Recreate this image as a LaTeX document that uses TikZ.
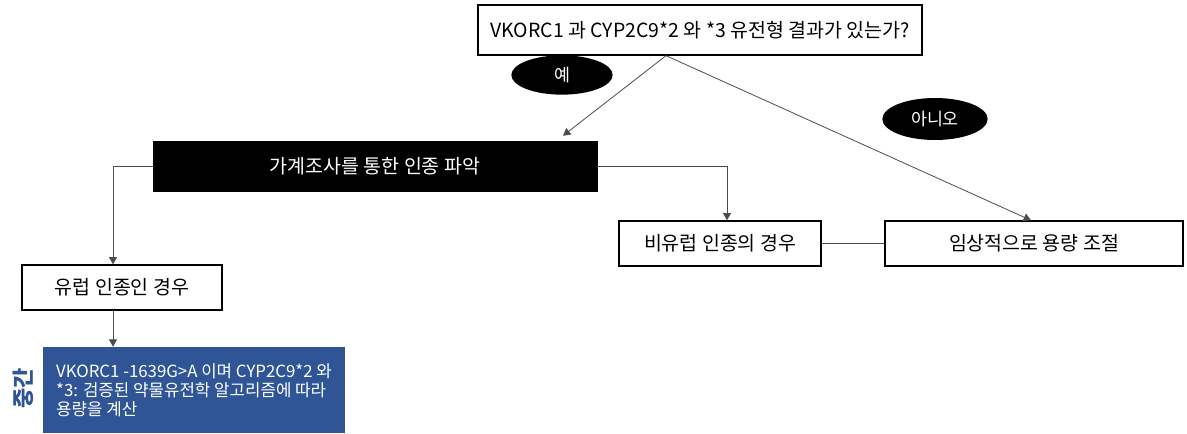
\documentclass[tikz,border=0pt]{standalone}
\usepackage{fontspec}
\setmainfont{Noto Sans CJK KR}
\usetikzlibrary{arrows.meta,calc,shapes.geometric}
\definecolor{darkblue}{HTML}{2F5597}
\begin{document}
\begin{tikzpicture}[x=0.75pt,y=-0.75pt,
  wbox/.style={draw=black,line width=1pt,fill=white,inner sep=0pt,
    font=\fontsize{14.6}{17}\selectfont},
  kbox/.style={draw=black,fill=black,text=white,inner sep=0pt,
    font=\fontsize{14.6}{17}\selectfont},
  oval/.style={ellipse,fill=black,text=white,inner sep=0pt,
    font=\fontsize{13}{15}\selectfont},
  conn/.style={draw=black!70,line width=0.6pt},
  arr/.style={conn,-{Triangle[width=6pt,length=5.5pt]}}]
\useasboundingbox (0,0) rectangle (1187,433);

\node[wbox,minimum width=333pt,minimum height=37.5pt] (top) at (700,30)
  {VKORC1 과 CYP2C9*2 와 *3 유전형 결과가 있는가?};
\node[oval,minimum width=76pt,minimum height=29.5pt] (yes) at (562,75) {예};
\node[oval,minimum width=79pt,minimum height=31.5pt] (no) at (935,119) {아니오};
\node[kbox,minimum width=333pt,minimum height=37.5pt] (blk) at (375,166)
  {가계조사를 통한 인종 파악};
\node[wbox,minimum width=150pt,minimum height=33.75pt] (euro) at (122,287.5)
  {유럽 인종인 경우};
\node[wbox,minimum width=151.5pt,minimum height=33.75pt] (noneuro) at (720,243.5)
  {비유럽 인종의 경우};
\node[wbox,minimum width=223.5pt,minimum height=33.75pt] (clin) at (1034,243.5)
  {임상적으로 용량 조절};
\node[fill=darkblue,text=white,align=left,inner sep=0pt,
  minimum width=226.5pt,minimum height=64.5pt,
  font=\fontsize{12.6}{14.4}\selectfont] (blue) at (194,390)
  {VKORC1 -1639G>A 이며 CYP2C9*2 와\\*3: 검증된 약물유전학 알고리즘에 따라\\용량을 계산};
\node[rotate=90,text=darkblue,inner sep=0pt,
  font=\bfseries\fontsize{16.5}{16.5}\selectfont] (mid) at (23,388) {중간};

\coordinate (s) at ([xshift=-25.5pt]top.south);
\draw[arr] (s) -- ([xshift=141pt,yshift=3.75pt]blk.north);
\draw[arr] (s) -- ([xshift=-2.25pt]clin.north);
\draw[arr] (blk.west) -| ([xshift=-6.75pt]euro.north);
\draw[arr] (blk.east) -| ([xshift=5.25pt]noneuro.north);
\draw[arr] ([xshift=-6.75pt]euro.south) -- ([xshift=-6.75pt]euro.south |- blue.north);
\draw[conn] (noneuro.east) -- (clin.west);
\end{tikzpicture}
\end{document}
